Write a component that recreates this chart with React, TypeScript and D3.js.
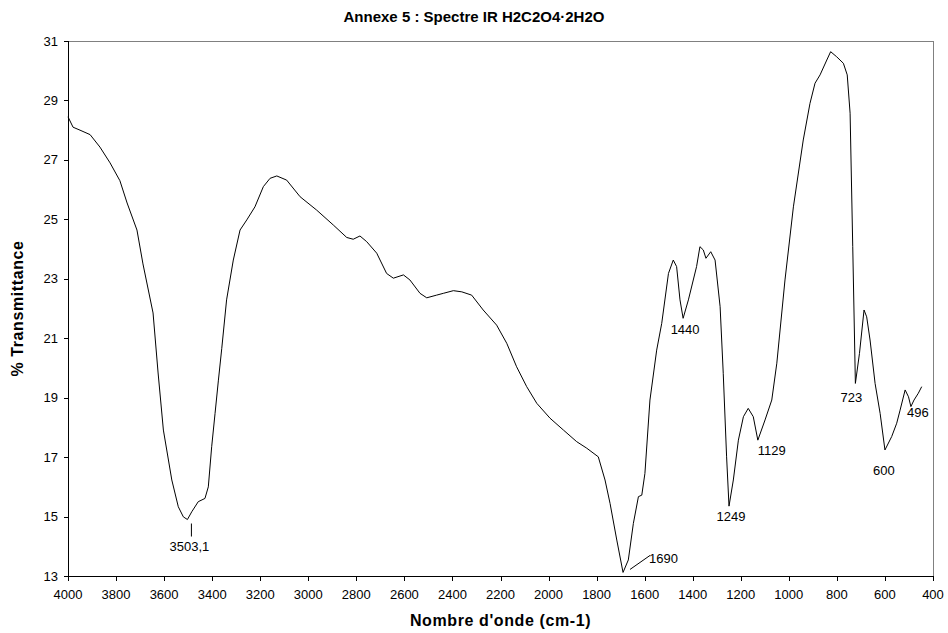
import React from "react";
import * as d3 from "d3";

const wavenumbers = [
  4000, 3979, 3950, 3908, 3867, 3825, 3784, 3754, 3713, 3688, 3646, 3625, 3603, 3568, 3541, 3520, 3503, 3485,
  3458, 3430, 3416, 3402, 3388, 3374, 3360, 3340, 3312, 3284, 3256, 3222, 3187, 3159, 3131, 3090, 3034, 2965,
  2896, 2840, 2813, 2785, 2757, 2715, 2674, 2646, 2604, 2577, 2535, 2507, 2466, 2438, 2396, 2361, 2320, 2272,
  2216, 2174, 2133, 2091, 2049, 1994, 1938, 1883, 1841, 1793, 1765, 1744, 1716, 1690, 1668, 1647, 1626, 1612,
  1599, 1578, 1550, 1529, 1501, 1481, 1467, 1453, 1440, 1418, 1384, 1370, 1356, 1345, 1325, 1307, 1286, 1273,
  1259, 1249, 1231, 1210, 1189, 1169, 1148, 1129, 1099, 1071, 1050, 1016, 981, 940, 912, 891, 870, 842, 826,
  801, 773, 757, 745, 734, 723, 706, 687, 676, 662, 641, 620, 600, 572, 551, 537, 516, 502, 492, 479, 461, 447,
];
const transmittance = [
  28.45, 28.1, 28.0, 27.85, 27.43, 26.9, 26.3, 25.55, 24.64, 23.5, 21.85, 19.83, 17.91, 16.23, 15.33, 14.99, 14.9, 15.16,
  15.5, 15.61, 16.0, 17.35, 18.47, 19.59, 20.66, 22.29, 23.63, 24.64, 24.98, 25.42, 26.1, 26.38, 26.46, 26.32, 25.76, 25.31,
  24.81, 24.39, 24.33, 24.44, 24.25, 23.86, 23.18, 23.02, 23.13, 22.96, 22.51, 22.36, 22.45, 22.51, 22.6, 22.56, 22.45, 21.95,
  21.44, 20.83, 20.04, 19.37, 18.81, 18.31, 17.91, 17.52, 17.3, 17.01, 16.23, 15.44, 14.21, 13.12, 13.54, 14.77, 15.67, 15.72,
  16.45, 18.92, 20.6, 21.5, 23.18, 23.63, 23.41, 22.29, 21.67, 22.29, 23.41, 24.08, 23.97, 23.69, 23.91, 23.63, 22.06, 19.82,
  17.01, 15.35, 16.23, 17.57, 18.36, 18.64, 18.36, 17.57, 18.25, 18.92, 20.16, 22.96, 25.42, 27.67, 28.9, 29.58, 29.86, 30.36, 30.64,
  30.47, 30.25, 29.86, 28.57, 24.08, 19.48, 20.49, 21.95, 21.72, 20.94, 19.48, 18.47, 17.24, 17.69, 18.14, 18.58, 19.26, 19.03, 18.7, 18.92, 19.15, 19.37,
];

const xTicks = [4000, 3800, 3600, 3400, 3200, 3000, 2800, 2600, 2400, 2200, 2000, 1800, 1600, 1400, 1200, 1000, 800, 600, 400];
const yTicks = [13, 15, 17, 19, 21, 23, 25, 27, 29, 31];

const peakLabels = ["3503,1", "1690", "1440", "1249", "1129", "723", "600", "496"];
const peakX = [3503, 1690, 1440, 1249, 1129, 723, 600, 496];
const peakY = [14.9, 13.12, 21.67, 15.35, 17.57, 19.48, 17.24, 18.7];

const W = 948;
const H = 633;
const M = { left: 68, right: 933, top: 41, bottom: 576 };
const FONT = "Arial, 'Liberation Sans', sans-serif";

export default function App() {
  const x = d3.scaleLinear().domain([4000, 400]).range([M.left, M.right]);
  const y = d3.scaleLinear().domain([13, 31]).range([M.bottom, M.top]);
  const pts: [number, number][] = wavenumbers.map((w, i) => [w, transmittance[i]]);
  const line = d3
    .line<[number, number]>()
    .x((d) => x(d[0]))
    .y((d) => y(d[1]));

  const labelPos = peakLabels.map((lab, i) => {
    const px = x(peakX[i]);
    const py = y(peakY[i]);
    switch (lab) {
      case "3503,1":
        return { tx: px + 2, ty: py + 31, anchor: "middle", leader: [px + 4, py + 4, px + 4, py + 17] };
      case "1690":
        return { tx: px + 26, ty: py - 9, anchor: "start", leader: [px + 7, py - 3, px + 27, py - 17] };
      case "1440":
        return { tx: px + 2, ty: py + 16, anchor: "middle", leader: null };
      case "1249":
        return { tx: px + 2, ty: py + 15, anchor: "middle", leader: null };
      case "1129":
        return { tx: px + 14, ty: py + 15, anchor: "middle", leader: null };
      case "723":
        return { tx: px - 4, ty: py + 19, anchor: "middle", leader: null };
      case "600":
        return { tx: px - 1, ty: py + 25, anchor: "middle", leader: null };
      default:
        return { tx: px + 8, ty: py + 10, anchor: "middle", leader: null };
    }
  });

  return (
    <svg
      width={W}
      height={H}
      style={{ position: "absolute", left: 0, top: 0, background: "#fff" }}
      fontFamily={FONT}
    >
      <rect x={0} y={0} width={W} height={H} fill="#fff" />
      <text x={474} y={22} textAnchor="middle" fontSize={15} fontWeight="bold" fill="#000">
        Annexe 5 : Spectre IR H2C2O4·2H2O
      </text>
      <line x1={M.left} x2={M.right} y1={M.top + 0.5} y2={M.top + 0.5} stroke="#808080" />
      <line x1={M.right + 0.5} x2={M.right + 0.5} y1={M.top} y2={M.bottom} stroke="#808080" />
      <line x1={M.left + 0.5} x2={M.left + 0.5} y1={M.top} y2={M.bottom} stroke="#000" />
      <line x1={M.left} x2={M.right + 1} y1={M.bottom + 0.5} y2={M.bottom + 0.5} stroke="#000" />
      {yTicks.map((t) => (
        <g key={"y" + t}>
          <line x1={M.left - 4} x2={M.left} y1={Math.round(y(t)) + 0.5} y2={Math.round(y(t)) + 0.5} stroke="#000" />
          <text x={M.left - 10} y={y(t) + 4.5} textAnchor="end" fontSize={13} fill="#000">
            {t}
          </text>
        </g>
      ))}
      {xTicks.map((t) => (
        <g key={"x" + t}>
          <line x1={Math.round(x(t)) + 0.5} x2={Math.round(x(t)) + 0.5} y1={M.bottom} y2={M.bottom + 5} stroke="#000" />
          <text x={x(t)} y={M.bottom + 23} textAnchor="middle" fontSize={13} fill="#000">
            {t}
          </text>
        </g>
      ))}
      <path d={line(pts) || ""} fill="none" stroke="#000" strokeWidth={1} />
      {labelPos.map((p, i) => (
        <g key={"p" + i}>
          {p.leader && (
            <line x1={p.leader[0]} y1={p.leader[1]} x2={p.leader[2]} y2={p.leader[3]} stroke="#000" />
          )}
          <text x={p.tx} y={p.ty} textAnchor={p.anchor as any} fontSize={13} fill="#000">
            {peakLabels[i]}
          </text>
        </g>
      ))}
      <text
        x={(M.left + M.right) / 2}
        y={626}
        textAnchor="middle"
        fontSize={16}
        fontWeight="bold"
        letterSpacing={0.6}
        fill="#000"
      >
        Nombre d'onde (cm-1)
      </text>
      <text
        transform={`translate(23, ${(M.top + M.bottom) / 2}) rotate(-90)`}
        textAnchor="middle"
        fontSize={16}
        fontWeight="bold"
        letterSpacing={0.6}
        fill="#000"
      >
        % Transmittance
      </text>
    </svg>
  );
}
